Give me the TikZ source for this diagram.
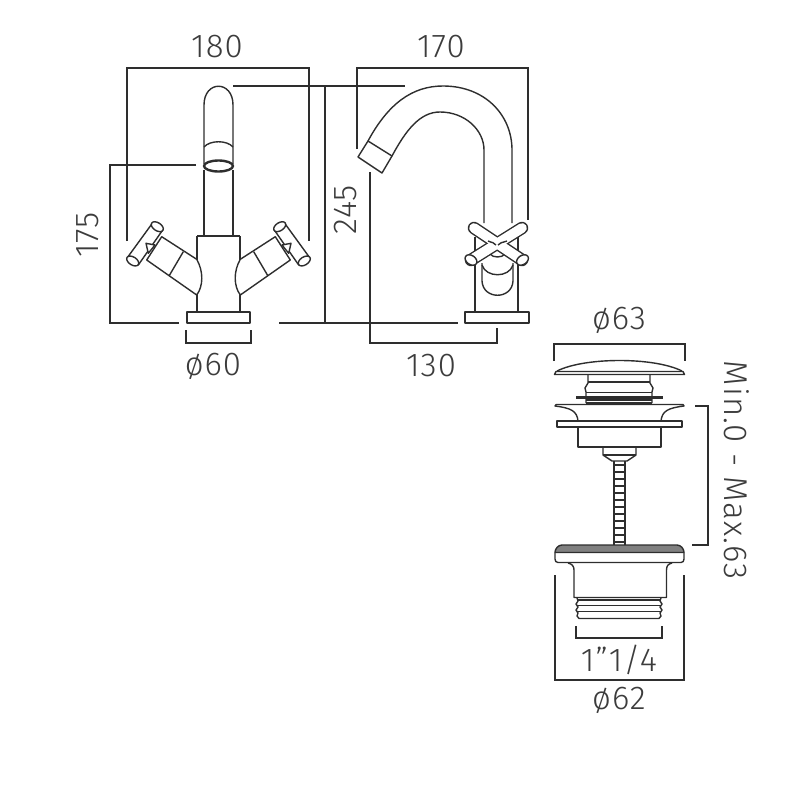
\documentclass[tikz,border=0pt]{standalone}
\usepackage{fontspec}
\setmainfont{Fira Sans Light}[LetterSpace=3]
\definecolor{inkline}{HTML}{2E2E2E}
\definecolor{inktext}{HTML}{3C3C3C}
\tikzset{
  part/.style={draw=inkline, line width=1.4pt, line join=round},
  dim/.style={draw=inkline, line width=1.2pt},
  Label/.style={text=inktext, font=\fontsize{33}{33}\selectfont, inner sep=0pt},
  thick part/.style={draw=inkline, line width=3pt},
  handle/.pic={
    \draw[part, fill=white] (-56.8,70.7) -- (-21.8,93.3) .. controls (-15,105) and (-15,120) .. (-21.8,129) -- (-71.8,94) -- cycle;
    \draw[part] (-35.2,85.7) -- (-49.5,110);
    \draw[part, fill=white] (-91.2,91.7) -- (-66.2,57.3) -- (-55.8,64) -- (-80.2,99) -- cycle;
    \draw[part, fill=white] (-85.8,95) ellipse [x radius=6.7, y radius=4, rotate=-33];
    \draw[part, fill=white] (-61.2,60.7) ellipse [x radius=6.7, y radius=4, rotate=-33];
    \draw[part, fill=white] (-72.5,77.3) -- (-63.5,79) -- (-70.2,87.3) -- cycle;
  }
}
\begin{document}
\begin{tikzpicture}[x=1pt, y=-1pt]
\useasboundingbox (0,0) rectangle (800,800);
% dimension lines
\draw[dim] (127,241) -- (127,68) -- (309,68) -- (309,241);
\draw[dim] (196,165) -- (110,165) -- (110,323) -- (179,323);
\draw[dim] (233,86) -- (405,86);
\draw[dim] (325,86) -- (325,323);
\draw[dim] (279,323) -- (458,323);
\draw[dim] (186,330) -- (186,343) -- (251,343) -- (251,330);
\draw[dim] (357,149) -- (357,68) -- (528,68) -- (528,220);
\draw[dim] (370,172) -- (370,343) -- (497,343) -- (497,328);
\draw[dim] (554,361) -- (554,344) -- (685,344) -- (685,361);
\draw[dim] (695,406) -- (708,406) -- (708,545) -- (692,545);
\draw[dim] (576,626) -- (576,638) -- (662,638) -- (662,626);
\draw[dim] (555,575) -- (555,680) -- (684,680) -- (684,575);
% front view
\draw[part] (204,164) -- (204,105) .. controls (204,80) and (233,80) .. (233,105) -- (233,164);
\draw[part] (204,147) .. controls (210,140) and (227,140) .. (233,147);
\draw[part] (204,170) -- (204,236);
\draw[part] (233,170) -- (233,236);
\draw[part, line width=2.4pt] (218.5,166) ellipse [x radius=14.5, y radius=5.5];
\draw[part] (197,236) -- (240,236);
\draw[part] (197,236) -- (197,312);
\draw[part] (240,236) -- (240,312);
\draw[part] (187,312) rectangle (250,323);
\begin{scope}[shift={(218.5,166)}]
\pic at (0,0) {handle};
\pic[xscale=-1] at (0,0) {handle};
\end{scope}
% side view
\draw[part] (368,141) .. controls (388,104) and (412,86) .. (443,86) .. controls (485,86) and (512,115) .. (512,150) -- (512,223);
\draw[part] (392,156) .. controls (406,130) and (420,112) .. (440,112) .. controls (465,112) and (484,130) .. (484,150) -- (484,223);
\draw[part] (368,141) -- (392,156) -- (382,173) -- (358,157) -- cycle;
\draw[part] (475,237) -- (475,312);
\draw[part] (518,237) -- (518,312);
\draw[part] (465,312) rectangle (529,323);
\draw[part] (482,263) -- (482,281) .. controls (483,300) and (512,300) .. (513,281) -- (513,263);
\draw[part] (482,265) .. controls (486,278) and (509,278) .. (513,265);
\draw[part] (490,254) .. controls (493,258) and (502,258) .. (505,254);
\foreach \xa/\ya/\xb/\yb in {474/228/522/260, 522/228/471/260}
  \draw[line width=12.5pt, line cap=round, draw=inkline] (\xa,\ya) -- (\xb,\yb);
\foreach \xa/\ya/\xb/\yb in {474/228/522/260, 522/228/471/260}
  \draw[line width=9.7pt, line cap=round, draw=white] (\xa,\ya) -- (\xb,\yb);
\draw[part, fill=white] (471,260) ellipse [x radius=6.5, y radius=4.5, rotate=-35];
\draw[part, fill=white] (522.5,260) ellipse [x radius=6.5, y radius=4.5, rotate=35];
\draw[part] (488,241) .. controls (492,243) and (494,242) .. (496,245);
\draw[part] (507,241) .. controls (502,243) and (500,242) .. (498,245);
% waste, cap
\draw[part] (557,371) .. controls (585,357) and (654,357) .. (682,371);
\draw[part] (556,371.5) -- (683,371.5) -- (684.5,374.5) -- (554.5,374.5) -- cycle;
\draw[part] (588,374) -- (588,383) -- (585,388) -- (586,392) -- (586,403);
\draw[part] (650,374) -- (650,383) -- (653,388) -- (652,392) -- (652,403);
\draw[part, line width=2pt] (588,381.5) -- (650,381.5);
\draw[part] (586,392.5) -- (652,392.5);
\draw[thick part] (576,397) -- (663,397);
\draw[part] (586,400) -- (652,400);
\draw[thick part] (586,403) -- (652,403);
% waste, flange
\draw[part] (556,404.5) -- (683,404.5) -- (684,406) .. controls (668,408) and (662,411) .. (661,421);
\draw[part] (556,404.5) -- (555,406) .. controls (571,408) and (577,411) .. (578,421);
\draw[part] (557,421) rectangle (682,427);
\draw[part] (578,427) -- (578,447) -- (661,447) -- (661,427);
\draw[part] (603,447) -- (603,455) -- (612,461) -- (627,461) -- (636,455) -- (636,447);
\draw[part] (603,455) -- (636,455);
% waste, rod
\draw[part] (614,461) -- (614,545);
\draw[part] (625,461) -- (625,545);
\foreach \y in {465,472,...,542}\draw[part, line width=2pt] (614,\y) -- (625,\y);
% waste, body
\draw[part, fill=gray] (555,552.5) .. controls (555,549) and (558,545) .. (562,545) -- (677,545) .. controls (681,545) and (684,549) .. (684,552.5) -- cycle;
\draw[part] (555,552.5) -- (555,559) .. controls (555,561) and (556,562.5) .. (558,562.5) -- (681,562.5) .. controls (683,562.5) and (684,561) .. (684,559) -- (684,552.5);
\draw[part] (568,563) .. controls (572,564) and (574,566) .. (574,570) -- (574,597.5) -- (666.5,597.5) -- (666.5,570) .. controls (666.5,566) and (668,564) .. (672,563);
\draw[part] (577,598) -- (578,601) -- (576,604) -- (578,607) -- (576,610) -- (578,613) -- (577,616) -- (579,618.5) -- (659,618.5) -- (661,616) -- (660,613) -- (662,610) -- (660,607) -- (662,604) -- (660,601) -- (661,598);
\draw[part, line width=2pt] (578,600) -- (660,600);
\foreach \y in {605.5,611.5}\draw[part] (577,\y) -- (661,\y);
% labels
\node[Label] (dimA) at (217,47) {180};
\node[Label] (dimB) at (441,47) {170};
\node[Label, rotate=90] (dimC) at (88,235) {175};
\node[Label, rotate=90] (dimD) at (346,210) {245};
\node[Label] (dimE) at (213,366) {ø60};
\node[Label] (dimF) at (431,366) {130};
\node[Label] (dimG) at (619,320) {ø63};
\node[Label, rotate=-90] (dimH) at (737,470) {Min.0 - Max.63};
\node[Label] (dimI) at (619,660) {1"1/4};
\node[Label] (dimJ) at (619,700) {ø62};
\end{tikzpicture}
\end{document}
